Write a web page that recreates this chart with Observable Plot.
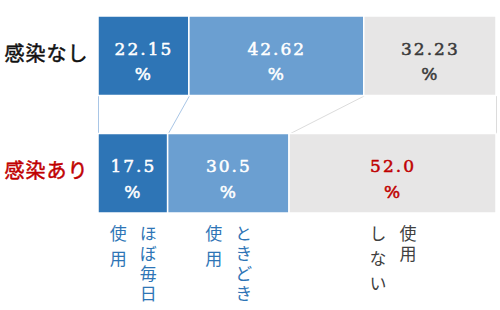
<!DOCTYPE html>
<html><head><meta charset="utf-8">
<script src="https://cdn.jsdelivr.net/npm/d3@7"></script>
<script src="https://cdn.jsdelivr.net/npm/@observablehq/plot@0.6"></script>
<style>
body{margin:0;background:#fff}
svg g[font-family="DejaVu Serif"] text { letter-spacing: 2px; }
svg g[aria-description~="vertical"] text { writing-mode: vertical-rl; text-orientation: upright; }
svg g[aria-description~="first"] text { letter-spacing: 3px; }
svg g[aria-description~="second"] text { letter-spacing: 8px; }
svg g[aria-description~="rowlabel"] text { letter-spacing: 1px; }
</style>
</head><body><div id="chart"></div>
<script>
// ---- data ----
const rows = ["感染なし", "感染あり"];
const categories = ["ほぼ毎日使用", "ときどき使用", "使用しない"];
const noInfection = [22.15, 42.62, 32.23];
const infection = [17.5, 30.5, 52.0];
const decimals = [2, 1];
const labelColumns = [["ほぼ毎日", "使用"], ["ときどき", "使用"], ["使用", "しない"]];

// ---- styles ----
const segColors = ["#2e75b6", "#6b9fd1", "#e7e6e6"];
const rowLabelColors = ["#111111", "#c00000"];
const grayTextColors = ["#3a3a3a", "#c00000"];
const catLabelColors = ["#2e75b6", "#2e75b6", "#404040"];
const connectorColors = ["#a9c6e6", "#a9c6e6", "#dcdcdc", "#dcdcdc"];

const STEP = 117.5 / 79.5; // row pitch in bar-thickness units
const series = [noInfection, infection];

const cums = series.map(vals => {
  const total = d3.sum(vals);
  let acc = 0;
  return [0, ...vals.map(v => (acc += v, acc / total * 100))];
});

const segments = rows.flatMap((row, r) => series[r].map((v, i) => ({
  row, category: categories[i], value: v,
  x1: cums[r][i], x2: cums[r][i + 1], xm: (cums[r][i] + cums[r][i + 1]) / 2,
  y1: r * STEP, y2: r * STEP + 1, ym: r * STEP + 0.5,
  fill: segColors[i],
  label: v.toFixed(decimals[r]) + "\n%",
  textColor: i < 2 ? "#ffffff" : grayTextColors[r]
})));

const connectors = cums[0].map((c, k) => ({
  x1: c, x2: cums[1][k], y1: 1, y2: STEP, stroke: connectorColors[k]
}));

const catLabels = categories.map((c, i) => ({
  category: c,
  x: (cums[1][i] + cums[1][i + 1]) / 2,
  y: STEP + 1,
  first: labelColumns[i][0],
  second: labelColumns[i][1],
  color: catLabelColors[i]
}));

const rowLabels = rows.map((row, r) => ({row, y: r * STEP + 0.5, color: rowLabelColors[r]}));

const chart = Plot.plot({
  width: 500, height: 310,
  marginLeft: 98, marginRight: 4, marginTop: 16, marginBottom: 97,
  x: {domain: [0, 100], axis: null},
  y: {domain: [0, STEP + 1], reverse: true, axis: null},
  color: {type: "identity"},
  style: {background: "#fff"},
  marks: [
    Plot.link(connectors, {x1: "x1", y1: "y1", x2: "x2", y2: "y2", stroke: "stroke", strokeWidth: 1}),
    Plot.rect(segments, {x1: "x1", x2: "x2", y1: "y1", y2: "y2", fill: "fill", stroke: "#fff", strokeWidth: 1.5}),
    Plot.text(segments, {x: "xm", y: "ym", text: "label", fill: "textColor", stroke: "textColor", strokeWidth: 0.5,
      fontFamily: "DejaVu Serif", fontSize: 17, lineHeight: 1.5, dy: 3}),
    Plot.text(rowLabels, {x: 0, y: "y", text: "row", fill: "color", stroke: "color", strokeWidth: 0.5,
      textAnchor: "end", dx: -10, dy: -2, ariaDescription: "rowlabel",
      fontFamily: "Noto Sans CJK JP", fontSize: 20}),
    Plot.text(catLabels, {x: "x", y: "y", text: "first", fill: "color", dx: 15, dy: 6,
      textAnchor: "start", lineAnchor: "middle", ariaDescription: "vertical first",
      fontFamily: "Noto Sans CJK JP", fontSize: 17}),
    Plot.text(catLabels, {x: "x", y: "y", text: "second", fill: "color", dx: -15, dy: 6,
      textAnchor: "start", lineAnchor: "middle", ariaDescription: "vertical second",
      fontFamily: "Noto Sans CJK JP", fontSize: 17})
  ]
});
document.getElementById("chart").appendChild(chart);
</script>
</body></html>
